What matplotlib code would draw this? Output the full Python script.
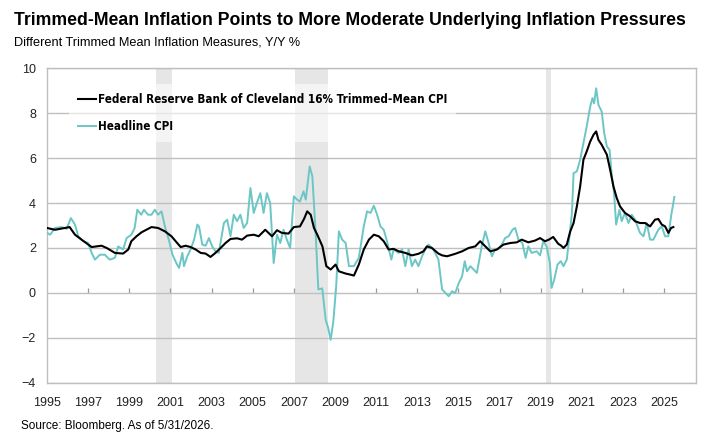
import matplotlib
matplotlib.use("Agg")
import matplotlib.pyplot as plt
import numpy as np

# decimal-year positions as plotted on the chart's axis
trim_x = [1995.00, 1995.39, 1995.87, 1996.10, 1996.36, 1996.68, 1997.17, 1997.65, 1997.90, 1998.30,
          1998.70, 1998.95, 1999.10, 1999.35, 1999.60, 2000.08, 2000.40, 2000.73, 2001.05, 2001.30,
          2001.50, 2001.74, 2001.98, 2002.23, 2002.47, 2002.71, 2002.95, 2003.19, 2003.44, 2003.68,
          2003.92, 2004.24, 2004.48, 2004.73, 2005.05, 2005.29, 2005.61, 2005.94, 2006.18, 2006.42,
          2006.74, 2007.00, 2007.30, 2007.50, 2007.65, 2007.82, 2007.98, 2008.14, 2008.39, 2008.58,
          2008.79, 2009.03, 2009.19, 2009.52, 2009.76, 2009.92, 2010.16, 2010.40, 2010.65, 2010.89,
          2011.13, 2011.37, 2011.61, 2011.85, 2012.10, 2012.42, 2012.74, 2013.06, 2013.30, 2013.47,
          2013.71, 2014.03, 2014.21, 2014.45, 2014.85, 2015.18, 2015.50, 2015.82, 2016.06, 2016.31,
          2016.55, 2016.87, 2017.19, 2017.52, 2017.84, 2018.08, 2018.40, 2018.73, 2018.97, 2019.21,
          2019.40, 2019.61, 2019.85, 2020.00, 2020.11, 2020.27, 2020.44, 2020.60, 2020.76, 2020.92,
          2021.08, 2021.24, 2021.41, 2021.57, 2021.70, 2021.81, 2021.97, 2022.22, 2022.38, 2022.54,
          2022.70, 2022.86, 2023.10, 2023.35, 2023.59, 2023.83, 2024.08, 2024.32, 2024.56, 2024.72,
          2024.89, 2025.05, 2025.21, 2025.34, 2025.45]
trim_y = [2.89, 2.81, 2.89, 2.93, 2.59, 2.37, 2.04, 2.10, 2.00, 1.78,
          1.75, 1.93, 2.30, 2.52, 2.70, 2.93, 2.89, 2.74, 2.52, 2.25,
          2.04, 2.10, 2.04, 1.93, 1.78, 1.75, 1.60, 1.78, 2.00, 2.22,
          2.40, 2.43, 2.37, 2.55, 2.59, 2.52, 2.81, 2.52, 2.79, 2.67,
          2.64, 2.93, 2.96, 3.30, 3.63, 3.48, 2.89, 2.59, 2.07, 1.19,
          1.04, 1.26, 0.96, 0.86, 0.81, 0.77, 1.26, 1.93, 2.37, 2.59,
          2.52, 2.30, 1.93, 1.96, 1.85, 1.78, 1.67, 1.74, 1.85, 2.07,
          2.00, 1.75, 1.67, 1.63, 1.74, 1.85, 2.00, 2.07, 2.30, 2.07,
          1.85, 1.93, 2.15, 2.22, 2.25, 2.37, 2.25, 2.33, 2.44, 2.30,
          2.37, 2.49, 2.19, 2.10, 2.00, 2.15, 2.74, 3.11, 3.85, 4.74,
          5.93, 6.30, 6.74, 7.04, 7.19, 6.81, 6.59, 6.15, 5.48, 4.74,
          4.22, 3.85, 3.56, 3.41, 3.19, 3.11, 3.11, 2.96, 3.26, 3.29,
          3.04, 2.96, 2.67, 2.89, 2.93]

cpi_x = [1995.00, 1995.15, 1995.39, 1995.71, 1995.95, 1996.16, 1996.36, 1996.52, 1996.76, 1997.00,
         1997.17, 1997.33, 1997.57, 1997.81, 1998.05, 1998.30, 1998.46, 1998.70, 1998.87, 1999.10,
         1999.26, 1999.39, 1999.58, 1999.71, 1999.91, 2000.08, 2000.24, 2000.40, 2000.57, 2000.73,
         2000.92, 2001.10, 2001.30, 2001.42, 2001.58, 2001.66, 2001.82, 2001.98, 2002.15, 2002.31,
         2002.39, 2002.55, 2002.71, 2002.87, 2003.03, 2003.19, 2003.35, 2003.60, 2003.76, 2003.92,
         2004.08, 2004.24, 2004.40, 2004.56, 2004.73, 2004.89, 2005.05, 2005.20, 2005.37, 2005.53,
         2005.69, 2005.85, 2006.02, 2006.18, 2006.34, 2006.50, 2006.66, 2006.82, 2007.00, 2007.16,
         2007.30, 2007.47, 2007.58, 2007.77, 2007.90, 2008.06, 2008.19, 2008.38, 2008.55, 2008.67,
         2008.79, 2008.92, 2009.06, 2009.19, 2009.35, 2009.52, 2009.68, 2009.92, 2010.16, 2010.40,
         2010.56, 2010.73, 2010.89, 2011.05, 2011.21, 2011.37, 2011.53, 2011.74, 2011.85, 2012.10,
         2012.26, 2012.42, 2012.58, 2012.74, 2012.90, 2013.06, 2013.23, 2013.39, 2013.55, 2013.79,
         2014.03, 2014.21, 2014.37, 2014.53, 2014.69, 2014.85, 2015.02, 2015.18, 2015.31, 2015.42,
         2015.58, 2015.74, 2015.90, 2016.15, 2016.31, 2016.47, 2016.63, 2016.79, 2016.95, 2017.11,
         2017.27, 2017.44, 2017.63, 2017.76, 2017.92, 2018.11, 2018.27, 2018.40, 2018.56, 2018.81,
         2018.97, 2019.13, 2019.29, 2019.45, 2019.53, 2019.66, 2019.82, 2019.98, 2020.11, 2020.27,
         2020.40, 2020.52, 2020.60, 2020.76, 2020.92, 2021.08, 2021.24, 2021.41, 2021.52, 2021.60,
         2021.70, 2021.81, 2021.97, 2022.09, 2022.22, 2022.35, 2022.46, 2022.57, 2022.67, 2022.83,
         2022.94, 2023.10, 2023.27, 2023.43, 2023.59, 2023.83, 2024.00, 2024.16, 2024.32, 2024.48,
         2024.72, 2024.89, 2025.05, 2025.21, 2025.34, 2025.50]
cpi_y = [2.67, 2.59, 2.89, 2.93, 2.85, 3.33, 3.04, 2.52, 2.30, 2.22,
         1.78, 1.48, 1.70, 1.70, 1.48, 1.56, 2.07, 1.93, 2.44, 2.59,
         2.89, 3.70, 3.48, 3.70, 3.48, 3.48, 3.70, 3.48, 3.63, 2.96,
         2.37, 1.70, 1.30, 1.11, 1.78, 1.19, 1.63, 1.93, 2.37, 3.04,
         2.96, 2.15, 2.10, 2.44, 2.07, 1.85, 1.78, 3.11, 3.26, 2.52,
         3.48, 3.19, 3.48, 2.89, 3.11, 4.67, 3.56, 4.00, 4.44, 3.56,
         4.44, 4.00, 1.33, 2.59, 2.22, 2.81, 2.37, 2.00, 4.30, 4.15,
         4.07, 4.52, 4.15, 5.63, 5.19, 2.67, 0.15, 0.20, -1.20, -1.56,
         -2.09, -1.27, 0.30, 2.74, 2.37, 2.22, 1.19, 1.19, 1.56, 2.96,
         3.63, 3.56, 3.88, 3.48, 2.96, 2.81, 2.30, 1.48, 1.93, 1.78,
         1.93, 1.19, 1.93, 1.19, 1.48, 1.19, 1.63, 1.93, 2.15, 1.93,
         1.48, 0.15, 0.00, -0.15, 0.07, 0.00, 0.44, 0.74, 1.41, 0.96,
         1.19, 1.04, 0.89, 2.15, 2.74, 2.22, 1.63, 1.93, 1.96, 2.15,
         2.44, 2.52, 2.81, 2.89, 2.37, 2.22, 1.56, 2.07, 1.78, 1.85,
         1.67, 2.30, 2.07, 1.33, 0.22, 0.59, 1.26, 1.41, 1.19, 1.48,
         2.52, 3.56, 5.33, 5.41, 5.93, 6.67, 7.41, 8.30, 8.67, 8.44,
         9.11, 8.37, 8.07, 7.11, 6.52, 6.37, 5.19, 4.44, 3.04, 3.70,
         3.19, 3.56, 3.11, 3.48, 3.26, 2.67, 2.52, 3.11, 2.37, 2.37,
         2.81, 2.96, 2.52, 2.52, 3.41, 4.27]

# shaded recession bands (start, end) on the chart axis
recessions = [(2000.29, 2001.10), (2007.04, 2008.67), (2019.24, 2019.51)]

year_ticks = list(range(1995, 2026, 2))

plt.rcParams['font.family'] = ['Liberation Sans', 'DejaVu Sans']

fig = plt.figure(figsize=(7.2, 4.46), dpi=100)
ax = fig.add_axes([0.0653, 0.1419, 0.9010, 0.7050])

for s, e in recessions:
    ax.axvspan(s, e, color='#e6e6e6', lw=0, zorder=0)

ax.plot(trim_x, trim_y, color='black', lw=1.5, zorder=4,
        label='Federal Reserve Bank of Cleveland 16% Trimmed-Mean CPI')
ax.plot(cpi_x, cpi_y, color='#6cc6c6', lw=1.4, zorder=3, label='Headline CPI')

ax.set_xlim(1995, 2026.54)
ax.set_ylim(-4, 10)
ax.set_yticks(np.arange(-4, 11, 2))
ax.set_xticks(year_ticks)
ax.yaxis.grid(True, color='#bfbfbf', lw=1, zorder=1)
ax.set_axisbelow(False)
for sp in ax.spines.values():
    sp.set_color('#bfbfbf')
    sp.set_linewidth(1)
ax.tick_params(length=0, labelsize=9, labelcolor='#222222')
ax.tick_params(axis='y', pad=8)
ax.tick_params(axis='x', pad=10)

# small tick marks sit on the zero line
ax.vlines(year_ticks[1:], 0, 0.2, color='#9a9a9a', lw=0.9, zorder=2)

leg = ax.legend(loc='upper left', bbox_to_anchor=(0.034, 0.95), borderaxespad=0,
                frameon=True, facecolor='white', edgecolor='none', framealpha=0.6,
                handlelength=1.6, handletextpad=0.1, labelspacing=1.2, borderpad=0.75,
                prop={'family': 'DejaVu Sans', 'stretch': 'condensed', 'weight': 'bold', 'size': 8.4})
leg.get_frame().set_boxstyle('square', pad=0)

fig.text(0.019, 0.943, 'Trimmed-Mean Inflation Points to More Moderate Underlying Inflation Pressures',
         fontsize=12.7, fontweight='bold', va='baseline')
fig.text(0.019, 0.897, 'Different Trimmed Mean Inflation Measures, Y/Y %', fontsize=9.2, va='baseline')
fig.text(0.029, 0.038, 'Source: Bloomberg. As of 5/31/2026.', fontsize=8.5, va='baseline')

fig.savefig('out.png', dpi=100)
